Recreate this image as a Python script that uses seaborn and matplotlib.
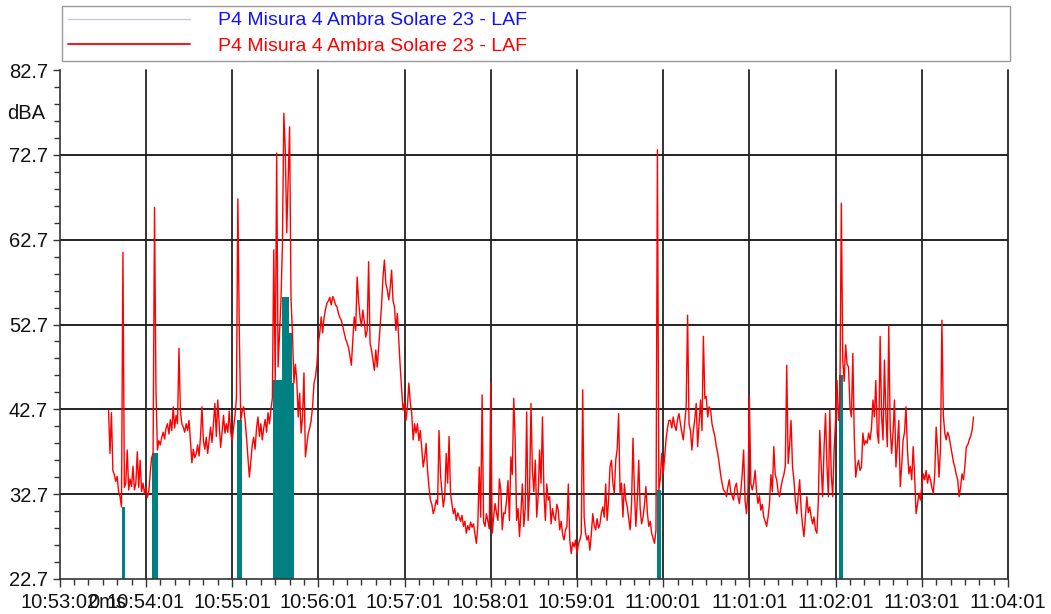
import numpy as np
import pandas as pd
import matplotlib
matplotlib.use("Agg")
import matplotlib.pyplot as plt
import seaborn as sns
from matplotlib.lines import Line2D

# ---------------- data ----------------
series_names = ["P4 Misura 4 Ambra Solare 23 - LAF", "P4 Misura 4 Ambra Solare 23 - LAF"]
start_second = 34          # first sample, seconds after 10:53:01 (1 s sampling)
laf = [
    42.6, 37.5, 42.3, 35.5, 35.0, 34.2, 34.8, 33.0, 32.4, 31.2,   # 34
    61.2, 33.5, 34.0, 37.9, 33.2, 34.5, 33.6, 36.0, 33.2, 34.0,   # 44
    37.7, 33.5, 36.7, 33.0, 34.0, 32.8, 33.5, 32.3, 33.0, 35.2,   # 54
    37.0, 37.5, 66.5, 45.0, 37.9, 39.0, 38.5, 39.4, 40.0, 39.2,   # 64
    40.5, 41.0, 39.8, 41.5, 40.2, 43.0, 40.5, 42.0, 41.0, 49.9,   # 74
    42.5, 41.0, 40.6, 40.0, 41.0, 40.2, 41.4, 39.0, 36.4, 38.0,   # 84
    37.0, 37.5, 38.5, 37.2, 39.5, 43.0, 39.0, 38.0, 39.4, 37.5,   # 94
    39.0, 40.6, 38.8, 41.0, 43.4, 39.5, 43.8, 41.0, 38.2, 40.0,   # 104
    42.0, 39.9, 41.0, 40.0, 42.5, 40.0, 39.0, 40.5, 42.0, 44.0,   # 114
    67.5, 52.0, 41.4, 42.5, 43.0, 41.5, 39.4, 37.0, 34.7, 36.5,   # 124
    38.5, 39.4, 38.0, 40.5, 41.8, 39.5, 41.0, 39.1, 40.5, 41.5,   # 134
    40.0, 42.3, 41.0, 42.6, 44.0, 61.5, 46.1, 72.9, 47.7, 51.7,   # 144
    55.6, 62.0, 77.6, 73.3, 63.5, 70.0, 76.0, 55.6, 51.7, 45.8,   # 154
    48.0, 46.1, 41.8, 44.6, 39.9, 41.8, 47.0, 37.1, 38.5, 39.9,   # 164
    40.5, 41.4, 43.0, 45.8, 46.5, 48.0, 50.5, 51.7, 53.6, 51.7,   # 174
    53.5, 54.5, 55.2, 55.5, 55.9, 55.0, 56.0, 55.6, 55.0, 54.8,   # 184
    54.0, 53.5, 53.2, 52.5, 51.7, 51.0, 50.5, 50.0, 49.0, 47.9,   # 194
    50.9, 53.6, 52.0, 58.3, 55.6, 53.6, 52.5, 54.4, 53.0, 51.2,   # 204
    52.0, 60.1, 50.5, 49.7, 48.5, 47.3, 49.7, 47.7, 50.0, 52.4,   # 214
    55.0, 58.3, 60.3, 57.5, 56.8, 55.6, 57.0, 59.1, 55.5, 54.8,   # 224
    52.0, 54.0, 50.9, 47.7, 45.0, 42.6, 43.5, 41.4, 43.0, 45.8,   # 234
    43.5, 42.2, 39.1, 41.0, 39.9, 41.0, 39.0, 40.2, 38.0, 35.9,   # 244
    37.0, 38.7, 35.5, 33.6, 32.0, 31.5, 30.4, 31.0, 32.0, 31.5,   # 254
    40.2, 35.1, 33.0, 31.2, 32.5, 37.5, 34.0, 39.5, 32.8, 31.5,   # 264
    30.4, 31.0, 29.6, 30.5, 30.0, 29.5, 30.2, 28.9, 29.5, 28.1,   # 274
    29.0, 28.5, 29.4, 28.8, 29.2, 28.0, 26.9, 29.0, 35.9, 30.0,   # 284
    44.4, 29.5, 28.9, 30.4, 29.5, 28.6, 45.8, 28.1, 30.0, 31.6,   # 294
    30.5, 29.6, 34.5, 33.2, 28.5, 30.5, 30.4, 32.0, 34.3, 29.6,   # 304
    37.1, 35.0, 44.0, 39.1, 29.6, 31.0, 27.7, 30.5, 33.9, 28.9,   # 314
    31.0, 42.4, 29.6, 33.0, 43.4, 35.5, 33.0, 36.7, 30.0, 32.5,   # 324
    37.9, 34.0, 41.8, 33.0, 29.6, 33.9, 32.0, 32.4, 29.2, 31.0,   # 334
    30.0, 29.6, 31.5, 30.8, 28.5, 29.5, 28.0, 27.3, 28.5, 28.9,   # 344
    33.9, 27.3, 25.7, 27.0, 26.5, 27.3, 25.7, 26.8, 27.3, 28.0,   # 354
    45.0, 30.0, 28.1, 27.3, 27.8, 26.1, 28.0, 30.4, 29.0, 28.5,   # 364
    29.8, 28.7, 29.2, 30.5, 31.2, 30.0, 33.9, 29.6, 32.0, 35.9,   # 374
    36.7, 34.0, 32.8, 36.7, 38.0, 42.2, 32.8, 34.0, 30.0, 33.9,   # 384
    32.0, 31.2, 29.8, 28.5, 31.5, 39.3, 33.0, 28.9, 32.0, 36.7,   # 394
    31.0, 29.2, 30.0, 31.5, 33.6, 30.5, 28.9, 29.5, 28.1, 27.5,   # 404
    26.9, 28.5, 73.3, 33.2, 34.5, 37.5, 35.1, 37.0, 39.1, 40.5,   # 414
    41.4, 41.4, 40.5, 41.8, 40.8, 40.2, 41.5, 42.2, 41.0, 40.0,   # 424
    39.1, 41.0, 43.0, 53.8, 41.0, 40.2, 37.9, 40.2, 41.5, 43.4,   # 434
    38.3, 41.0, 43.8, 40.2, 51.3, 44.0, 44.2, 41.8, 43.0, 42.6,   # 444
    41.0, 40.2, 39.5, 38.3, 37.5, 36.3, 35.0, 34.0, 33.2, 33.0,   # 454
    32.4, 33.5, 34.4, 33.0, 32.5, 32.0, 33.5, 34.0, 32.5, 31.6,   # 464
    33.0, 35.0, 37.9, 32.0, 30.4, 33.0, 44.2, 34.0, 33.2, 34.0,   # 474
    35.5, 33.0, 31.6, 32.5, 30.8, 31.5, 30.0, 29.5, 28.9, 30.0,   # 484
    31.6, 35.0, 33.0, 38.3, 35.0, 34.4, 33.0, 32.4, 33.5, 34.4,   # 494
    35.0, 36.0, 47.9, 36.3, 38.5, 41.4, 36.0, 34.4, 32.0, 30.4,   # 504
    32.5, 34.4, 31.0, 29.0, 27.7, 30.0, 32.4, 30.5, 31.2, 30.0,   # 514
    29.2, 30.0, 28.5, 28.1, 32.0, 40.2, 36.0, 32.4, 38.3, 42.2,   # 524
    36.0, 32.4, 42.6, 35.0, 32.4, 38.0, 41.4, 46.1, 41.4, 44.0,   # 534
    67.0, 48.5, 46.0, 50.3, 48.0, 47.7, 43.0, 41.8, 49.3, 39.5,   # 544
    34.7, 36.0, 36.7, 35.5, 35.9, 39.9, 38.5, 39.0, 38.7, 39.9,   # 554
    39.1, 40.5, 43.8, 41.8, 46.1, 40.0, 38.7, 51.3, 42.0, 39.1,   # 564
    48.5, 42.0, 38.3, 52.6, 40.6, 37.5, 40.0, 43.8, 35.9, 38.5,   # 574
    41.4, 33.6, 36.0, 39.1, 40.0, 43.0, 38.0, 35.1, 36.0, 34.4,   # 584
    38.3, 35.0, 30.4, 31.5, 32.8, 32.0, 33.5, 35.1, 34.4, 35.5,   # 594
    34.0, 35.0, 34.4, 33.5, 32.8, 35.0, 40.6, 38.0, 34.7, 38.0,   # 604
    53.2, 42.0, 39.9, 39.1, 40.0, 39.5, 38.5, 37.5, 36.5, 35.9,   # 614
    35.0, 34.4, 32.4, 33.5, 35.1, 34.4, 36.0, 38.3, 38.5, 39.1,   # 624
    39.5, 40.2, 41.8,                                             # 634
]

# masked (teal) intervals: start / end in seconds after 10:53:01, top level in dBA
teal_start = [43.2, 64.5, 123.2, 148.7, 154.5, 159.6, 161.5, 415.5, 542.6]
teal_end = [45.6, 68.2, 126.7, 154.5, 159.6, 161.5, 163.1, 418.3, 545.0]
teal_top = [31.2, 37.5, 41.4, 46.1, 56.0, 51.7, 45.8, 33.2, 46.8]

x_tick_labels = ["10:53:02", "10:54:01", "10:55:01", "10:56:01", "10:57:01", "10:58:01",
                 "10:59:01", "11:00:01", "11:01:01", "11:02:01", "11:03:01", "11:04:01"]
y_tick_labels = ["22.7", "32.7", "42.7", "52.7", "62.7", "72.7", "82.7"]
unit_label = "dBA"
extra_time_label = "0ms"

# ---------------- figure ----------------
sns.set_theme(style="ticks")
plt.rcParams["font.family"] = ["Liberation Sans", "DejaVu Sans"]

W, H = 1051, 614
fig = plt.figure(figsize=(W / 100, H / 100), dpi=100)
fig.patch.set_facecolor("white")
ax_l, ax_r, ax_t, ax_b = 59.7, 1008.0, 70.0, 579.0
ax = fig.add_axes([ax_l / W, 1 - ax_b / H, (ax_r - ax_l) / W, (ax_b - ax_t) / H])
ax.set_facecolor("white")

y_ticks = [float(v) for v in y_tick_labels]
x_ticks = [60 * i for i in range(len(x_tick_labels))]
ymin, ymax = y_ticks[0], y_ticks[-1]

# teal masked blocks
ax.bar(teal_start, np.subtract(teal_top, ymin), width=np.subtract(teal_end, teal_start),
       bottom=ymin, align="edge", color="#008080", linewidth=0, zorder=2)

# LAF line
df = pd.DataFrame({"t": np.arange(start_second, start_second + len(laf)), "laf": laf})
sns.lineplot(data=df, x="t", y="laf", color="#ff0000", linewidth=1.0, ax=ax,
             zorder=3, legend=False, estimator=None)

# grid lines (interior + right edge)
for v in y_ticks[1:-1]:
    ax.axhline(v, color="#111111", linewidth=1.3, zorder=1)
for v in x_ticks[1:]:
    ax.axvline(v, color="#222222", linewidth=1.3, zorder=1, clip_on=False)

ax.set_xlim(x_ticks[0], x_ticks[-1])
ax.set_ylim(ymin, ymax)
ax.set_xticks(x_ticks)
ax.set_xticklabels(x_tick_labels)
ax.set_yticks(y_ticks)
ax.set_yticklabels(y_tick_labels)
ax.set_xticks(np.arange(0, 661, 10), minor=True)
ax.set_yticks(np.arange(ymin, ymax + 0.01, 2.0), minor=True)
ax.set_xlabel("")
ax.set_ylabel("")

for s in ["top", "right"]:
    ax.spines[s].set_visible(False)
for s in ["left", "bottom"]:
    ax.spines[s].set_color("#333333")
    ax.spines[s].set_linewidth(1.2)

ax.tick_params(axis="both", which="both", direction="out", color="#333333", width=1.0,
               labelsize=14.5, labelcolor="#111111")
ax.tick_params(axis="y", which="major", length=5, pad=3.5)
ax.tick_params(axis="y", which="minor", length=4)
ax.tick_params(axis="x", which="major", length=5.5, pad=4.8)
ax.tick_params(axis="x", which="minor", length=4.5)

ax.annotate(unit_label, xy=(0, 77.6), xycoords=("axes fraction", "data"),
            xytext=(-10.5, 0), textcoords="offset points", ha="right", va="center",
            fontsize=14.5, color="#111111")
ax.annotate(extra_time_label, xy=(0, 0), xycoords="axes fraction",
            xytext=(20.5, -10.3), textcoords="offset points", ha="left", va="top",
            fontsize=14.5, color="#111111")

# legend box on top
handles = [Line2D([], [], color="#c4c4ee", linewidth=1.0),
           Line2D([], [], color="#ff0000", linewidth=1.3)]
leg = fig.legend(handles=handles, labels=series_names, loc="upper left",
                 bbox_to_anchor=(62 / W, 0, 948 / W, 1 - 6 / H), mode="expand",
                 borderaxespad=0, frameon=True, fancybox=False, edgecolor="#9a9a9a",
                 framealpha=1, handlelength=6.3, handletextpad=1.4, borderpad=0.3,
                 labelspacing=0.41, fontsize=14)
leg.get_frame().set_linewidth(1.0)
leg.get_texts()[0].set_color("#1010ff")
leg.get_texts()[1].set_color("#ff0000")

fig.savefig("out.png", dpi=100, facecolor="white")
